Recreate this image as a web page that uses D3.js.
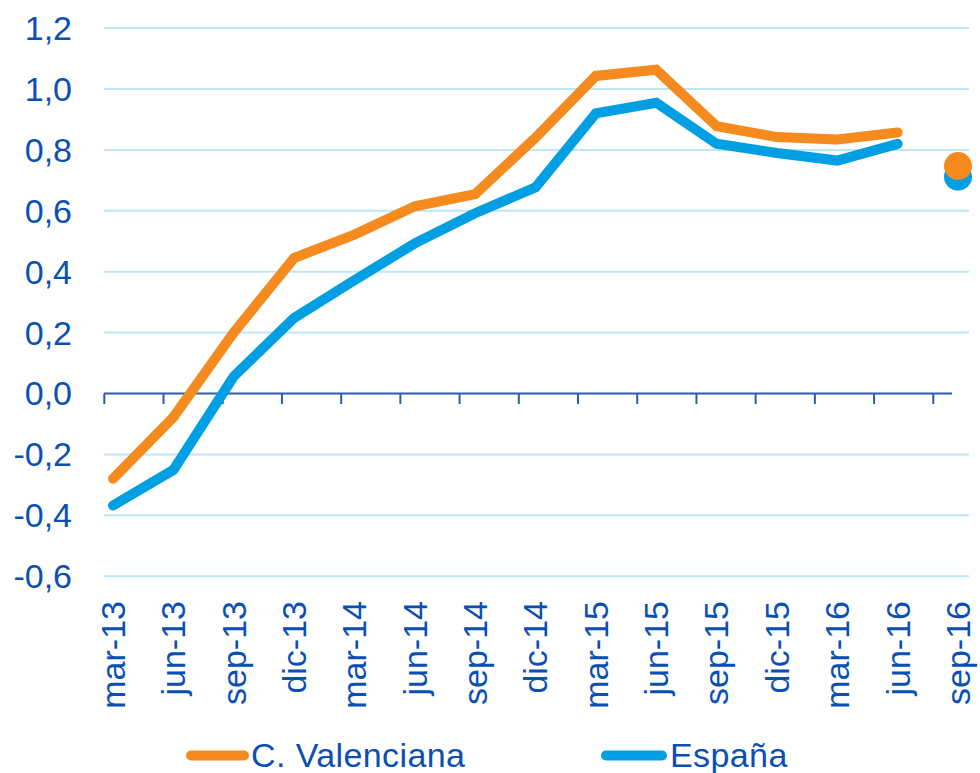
<!DOCTYPE html>
<html>
<head>
<meta charset="utf-8">
<script src="https://cdn.jsdelivr.net/npm/d3@7"></script>
<style>
  html, body { margin: 0; padding: 0; background: #ffffff; }
  svg { display: block; font-family: "Liberation Sans", Arial, sans-serif; }
</style>
</head>
<body>
<svg id="chart" width="980" height="773"></svg>
<script>
// ---- data ----
const categories = ["mar-13","jun-13","sep-13","dic-13","mar-14","jun-14","sep-14","dic-14","mar-15","jun-15","sep-15","dic-15","mar-16","jun-16","sep-16"];
// last value (sep-16) is shown as a separate point, not joined to the line
const valenciana = [-0.28, -0.078, 0.20, 0.445, 0.522, 0.615, 0.655, 0.84, 1.043, 1.063, 0.878, 0.842, 0.834, 0.857, 0.747];
const espana     = [-0.368, -0.251, 0.056, 0.248, 0.372, 0.493, 0.592, 0.677, 0.92, 0.955, 0.82, 0.79, 0.765, 0.82, 0.712];
const yTicks = [-0.6, -0.4, -0.2, 0.0, 0.2, 0.4, 0.6, 0.8, 1.0, 1.2];
const seriesNames = ["C. Valenciana", "España"];

// ---- style ----
const textColor = "#0A50B4";
const orange = "#F58A1F";
const blue = "#009FE3";
const gridColor = "#BDE6F8";
const axisColor = "#2D5DAA";

const svg = d3.select("#chart");

const y = d3.scaleLinear().domain([-0.6, 1.2]).range([576.2, 28.1]);
const x = d3.scalePoint().domain(categories).range([113, 958]);
const tickX = d3.scaleLinear().domain([0, categories.length - 1]).range([104.3, 933.3]);
const gridLeft = 104, gridRight = 969, axisRight = 952;

const fmt = v => d3.format(".1f")(v).replace(".", ",").replace("−", "-");

// gridlines
svg.append("g").selectAll("line")
  .data(yTicks.filter(v => v !== 0))
  .join("line")
  .attr("x1", gridLeft).attr("x2", gridRight)
  .attr("y1", d => y(d)).attr("y2", d => y(d))
  .attr("stroke", gridColor).attr("stroke-width", 2);

// y labels
svg.append("g").selectAll("text")
  .data(yTicks)
  .join("text")
  .attr("x", 72).attr("y", d => y(d))
  .attr("dy", "0.35em")
  .attr("text-anchor", "end")
  .attr("fill", textColor)
  .attr("font-size", 34)
  .text(fmt);

// x axis line and ticks
svg.append("line")
  .attr("x1", gridLeft).attr("x2", axisRight)
  .attr("y1", y(0)).attr("y2", y(0))
  .attr("stroke", axisColor).attr("stroke-width", 2);
svg.append("g").selectAll("line")
  .data(d3.range(categories.length))
  .join("line")
  .attr("x1", d => tickX(d)).attr("x2", d => tickX(d))
  .attr("y1", y(0)).attr("y2", y(0) + 10.5)
  .attr("stroke", axisColor).attr("stroke-width", 2);

// x labels (rotated)
svg.append("g").selectAll("text")
  .data(categories)
  .join("text")
  .attr("transform", d => `translate(${x(d)},601) rotate(-90)`)
  .attr("dy", "0.35em")
  .attr("text-anchor", "end")
  .attr("fill", textColor)
  .attr("font-size", 34)
  .text(d => d);

// lines
const lineCats = categories.slice(0, -1);
const line = d3.line().x(d => x(d.c)).y(d => y(d.v));
function drawSeries(values, color) {
  const pts = lineCats.map((c, i) => ({ c, v: values[i] }));
  svg.append("path")
    .attr("d", line(pts))
    .attr("fill", "none")
    .attr("stroke", color)
    .attr("stroke-width", 10)
    .attr("stroke-linecap", "round")
    .attr("stroke-linejoin", "miter");
}
drawSeries(espana, blue);
drawSeries(valenciana, orange);

// forecast points
const last = categories[categories.length - 1];
svg.append("circle").attr("cx", x(last)).attr("cy", y(espana[espana.length - 1])).attr("r", 14).attr("fill", blue);
svg.append("circle").attr("cx", x(last)).attr("cy", y(valenciana[valenciana.length - 1])).attr("r", 14).attr("fill", orange);

// legend
const legend = [
  { name: seriesNames[0], color: orange, x1: 191, x2: 244, tx: 251 },
  { name: seriesNames[1], color: blue, x1: 606, x2: 662, tx: 670 }
];
const lg = svg.append("g").selectAll("g").data(legend).join("g");
lg.append("line")
  .attr("x1", d => d.x1).attr("x2", d => d.x2)
  .attr("y1", 755.5).attr("y2", 755.5)
  .attr("stroke", d => d.color).attr("stroke-width", 10)
  .attr("stroke-linecap", "round");
lg.append("text")
  .attr("x", d => d.tx).attr("y", 767)
  .attr("fill", textColor)
  .attr("font-size", 34)
  .attr("letter-spacing", 0.4)
  .text(d => d.name);
</script>
</body>
</html>
